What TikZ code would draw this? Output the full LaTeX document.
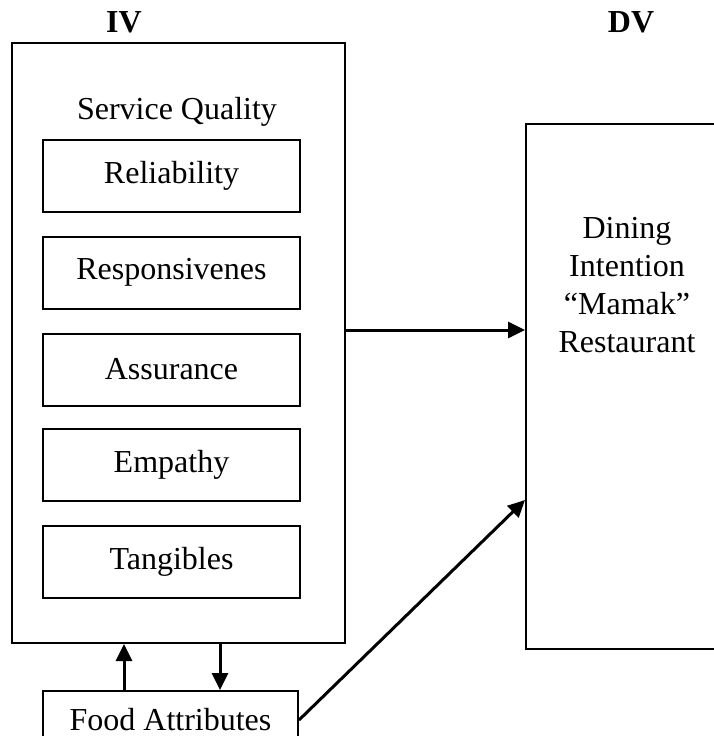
\documentclass[tikz,border=0pt]{standalone}
\usepackage{fontspec}
\setmainfont{Liberation Serif}
\usetikzlibrary{arrows.meta}

\begin{document}
\begin{tikzpicture}[x=1pt,y=-1pt,
  txt/.style={font=\fontsize{32}{38}\selectfont},
  head/.style={font=\bfseries\fontsize{32}{38}\selectfont},
  box/.style={draw, line width=2pt, txt, minimum width=257pt, minimum height=72pt, inner sep=0pt},
  arr/.style={-{Triangle[length=17pt,width=16pt]}, line width=3pt}]
\useasboundingbox (0,0) rectangle (714,736);
\clip (0,0) rectangle (714,736);
% headings
\node[head] (iv) at (124,22) {IV};
\node[head] (dv) at (631,22) {DV};
% independent variables
\node[draw, line width=2pt, minimum width=333pt, minimum height=600pt] (sq) at (178.5,343) {};
\node[txt] (sqlabel) at (177,112) {Service Quality};
\node[box] (rel) at (171.5,175.5) {Reliability};
\node[box] (resp) at (171.5,272.5) {Responsivenes};
\node[box] (assu) at (171.5,369.5) {Assurance};
\node[box] (emp) at (171.5,464.5) {Empathy};
\node[box] (tang) at (171.5,562) {Tangibles};
\node[box, minimum width=255pt, minimum height=58pt] (food) at (170.5,720) {Food Attributes};
% dependent variable
\node[draw, line width=2pt, minimum width=240pt, minimum height=525pt] (intent) at (646,386.5) {};
\node[txt, align=center] (intentlabel) at (627,285) {Dining\\Intention\\``Mamak''\\Restaurant};
% connectors
\coordinate (mid) at (0,330);
\coordinate (low) at (0,500);
\coordinate (down) at (220,0);
\draw[arr] (sq.east |- mid) -- (intent.west |- mid);
\draw[arr] (food.east) -- (intent.west |- low);
\draw[arr] (food.north -| iv) -- (sq.south -| iv);
\draw[arr] (sq.south -| down) -- (food.north -| down);
\end{tikzpicture}
\end{document}
